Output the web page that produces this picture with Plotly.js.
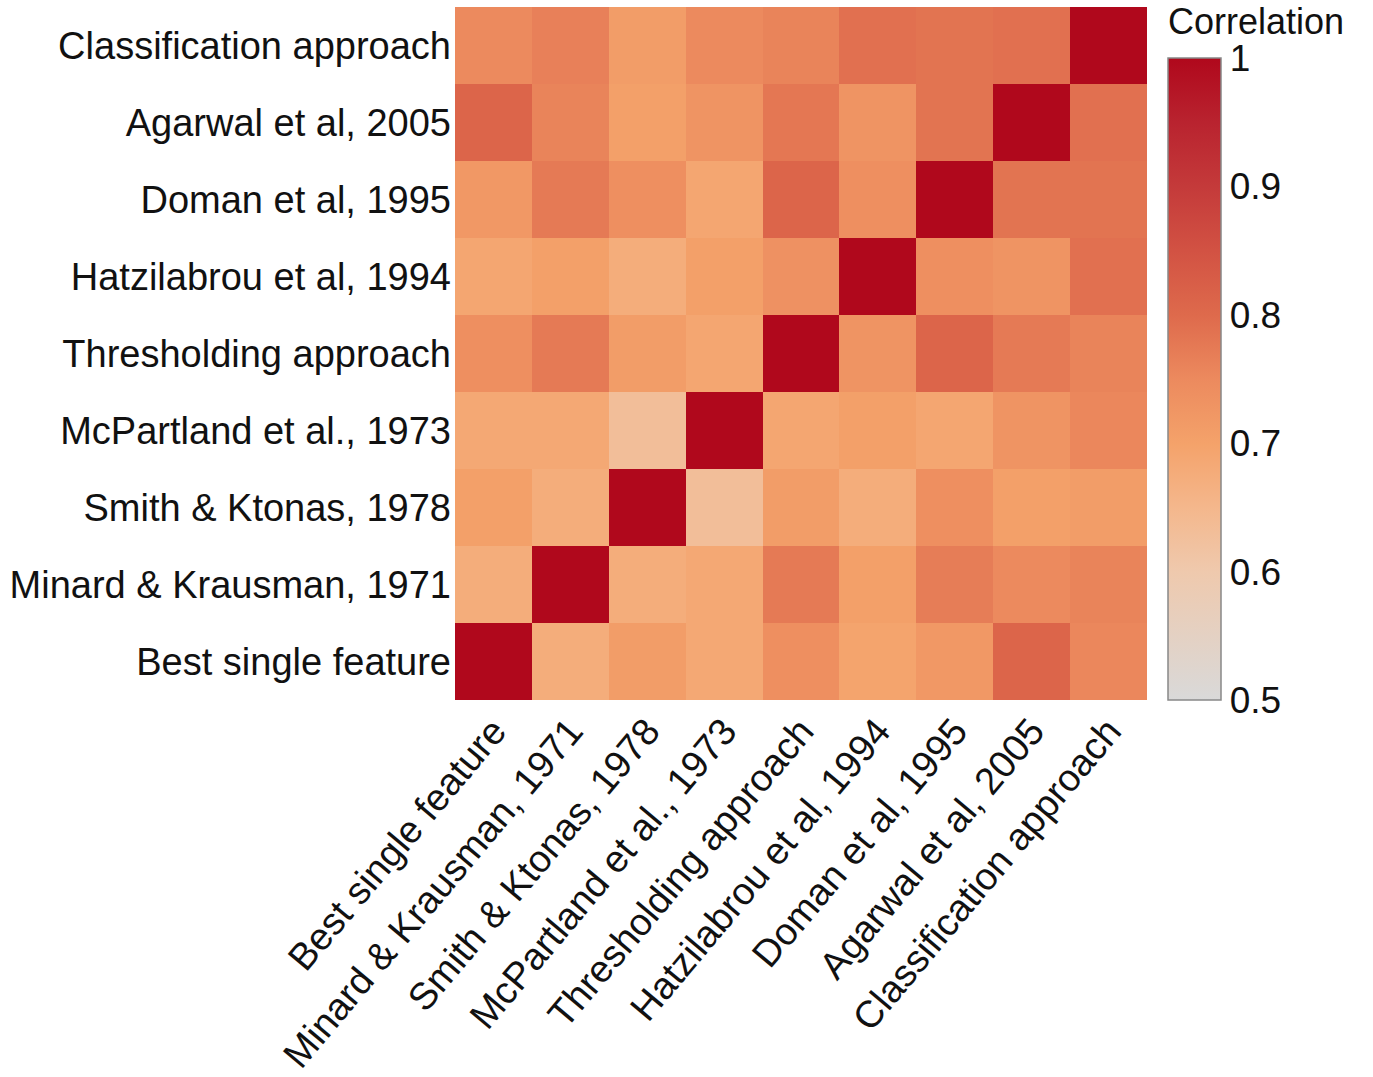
<!DOCTYPE html>
<html>
<head>
<meta charset="utf-8">
<script src="https://cdn.plot.ly/plotly-3.0.1.min.js"></script>
<style>html,body{margin:0;padding:0;background:#fff;}#chart{width:1373px;height:1077px;}</style>
</head>
<body>
<div id="chart"></div>
<script>
// Methods (bottom-to-top for rows, left-to-right for columns)
const methods = [
  "Best single feature",
  "Minard & Krausman, 1971",
  "Smith & Ktonas, 1978",
  "McPartland et al., 1973",
  "Thresholding approach",
  "Hatzilabrou et al, 1994",
  "Doman et al, 1995",
  "Agarwal et al, 2005",
  "Classification approach"
];

// Correlation rows, one array per row (row label = methods[i]), values across columns
const rowBest         = [1.00, 0.675, 0.71, 0.685, 0.74, 0.695, 0.72, 0.81, 0.755];
const rowMinard       = [0.675, 1.00, 0.675, 0.685, 0.775, 0.705, 0.77, 0.75, 0.76];
const rowSmith        = [0.705, 0.675, 1.00, 0.63, 0.71, 0.675, 0.74, 0.705, 0.71];
const rowMcPartland   = [0.685, 0.685, 0.63, 1.00, 0.69, 0.705, 0.69, 0.73, 0.755];
const rowThresholding = [0.74, 0.775, 0.71, 0.69, 1.00, 0.73, 0.81, 0.775, 0.76];
const rowHatzilabrou  = [0.69, 0.705, 0.675, 0.705, 0.735, 1.00, 0.74, 0.73, 0.79];
const rowDoman        = [0.72, 0.775, 0.74, 0.69, 0.81, 0.74, 1.00, 0.785, 0.785];
const rowAgarwal      = [0.81, 0.76, 0.705, 0.73, 0.78, 0.73, 0.785, 1.00, 0.79];
const rowClassif      = [0.75, 0.765, 0.71, 0.75, 0.76, 0.79, 0.785, 0.79, 1.00];

const colorbarTicks = [0.5, 0.6, 0.7, 0.8, 0.9, 1];
const colorbarTickText = ["0.5", "0.6", "0.7", "0.8", "0.9", "1"];
const colorbarTitle = "Correlation";

const z = [rowBest, rowMinard, rowSmith, rowMcPartland, rowThresholding,
           rowHatzilabrou, rowDoman, rowAgarwal, rowClassif];

const font = "Liberation Sans, Arial, sans-serif";
const fs = 38;

const trace = {
  type: "heatmap",
  x: methods,
  y: methods,
  z: z,
  zmin: 0.5,
  zmax: 1,
  xgap: 0,
  ygap: 0,
  colorscale: [
    [0.0, "#d9d9d9"],
    [0.2, "#efc9ad"],
    [0.3, "#f4b78c"],
    [0.4, "#f4a26a"],
    [0.5, "#ec8a5e"],
    [0.6, "#de6a4c"],
    [0.7, "#d25243"],
    [0.8, "#c43a3a"],
    [0.9, "#b9232f"],
    [1.0, "#b0081c"]
  ],
  hoverongaps: false,
  colorbar: {
    x: 1, xref: "paper", xanchor: "left", xpad: 21,
    y: 0, yanchor: "bottom", ypad: 0,
    len: 0.926, lenmode: "fraction",
    thickness: 53,
    outlinecolor: "#888888", outlinewidth: 1.5,
    ticks: "",
    ticklabelposition: "outside",
    tickvals: colorbarTicks,
    ticktext: colorbarTickText,
    tickfont: {family: font, size: fs - 1, color: "#111"}
  }
};

const layout = {
  width: 1373,
  height: 1077,
  margin: {l: 455, r: 226, t: 7, b: 377},
  paper_bgcolor: "#fff",
  plot_bgcolor: "#fff",
  xaxis: {
    type: "category",
    tickangle: -50,
    tickfont: {family: font, size: fs, color: "#111"},
    ticks: "", showgrid: false, zeroline: false, showline: false,
    automargin: false
  },
  yaxis: {
    type: "category",
    tickfont: {family: font, size: fs, color: "#111"},
    ticks: "", showgrid: false, zeroline: false, showline: false,
    ticklabelstandoff: 3,
    automargin: false
  },
  annotations: [{
    text: colorbarTitle,
    xref: "paper", yref: "paper",
    x: 1 + 20 / 692, y: 1 + 7 / 693,
    xanchor: "left", yanchor: "top",
    borderpad: 0,
    showarrow: false,
    font: {family: font, size: fs - 2, color: "#111"}
  }]
};

Plotly.newPlot("chart", [trace], layout, {displayModeBar: false, staticPlot: true});
</script>
</body>
</html>
